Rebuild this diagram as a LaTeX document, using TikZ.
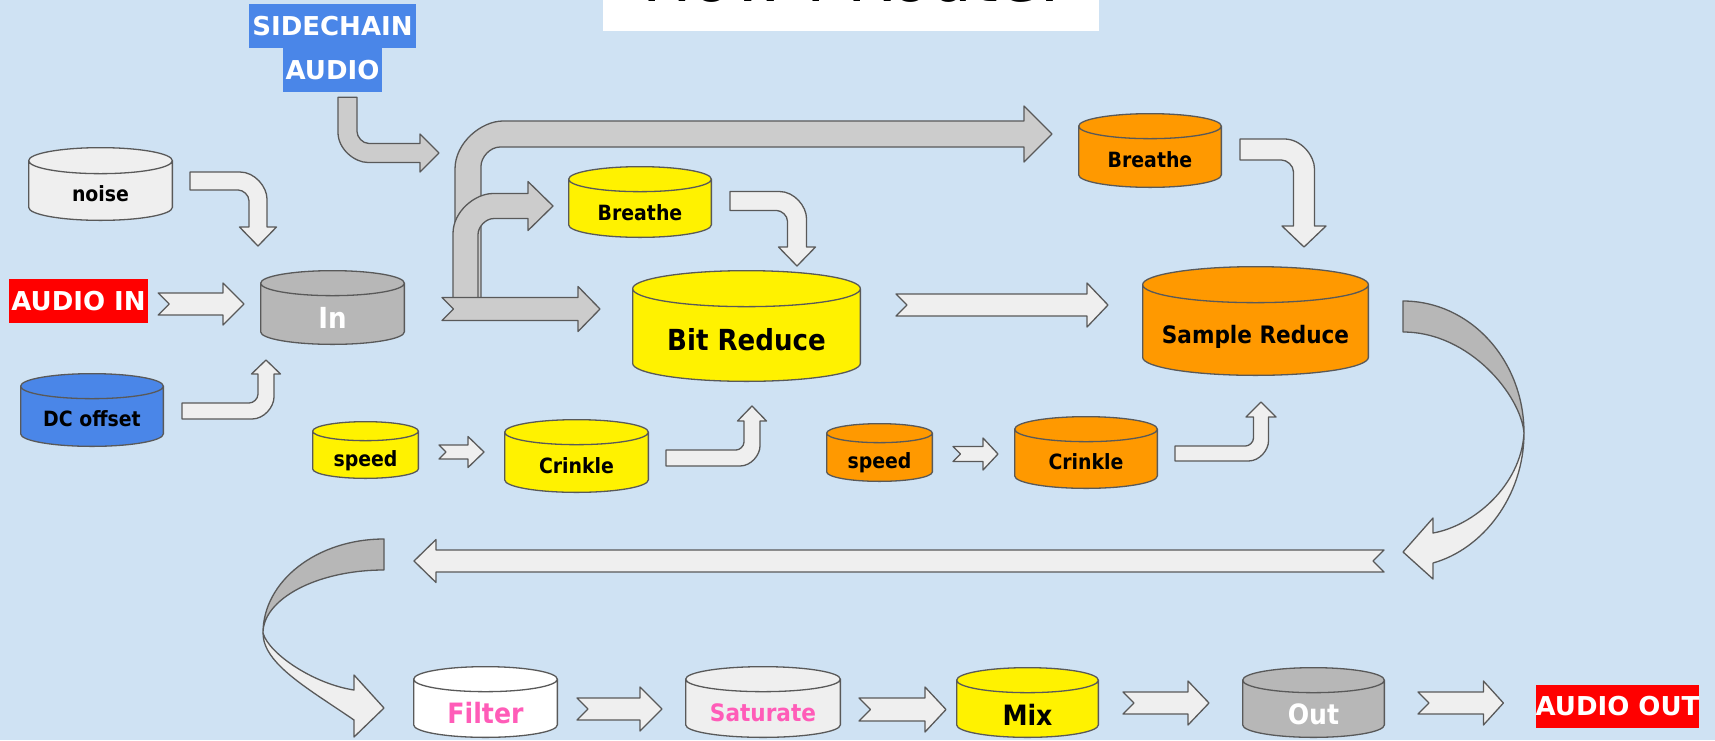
\documentclass[tikz,border=0pt]{standalone}
\usepackage{fontspec}
\setmainfont{DejaVu Sans}
\newfontfamily\drumfont{DejaVu Sans}[FakeStretch=0.9]
\usetikzlibrary{calc}

\definecolor{bgblue}{HTML}{CFE2F3}
\definecolor{rim}{HTML}{595959}
\definecolor{ltgray}{HTML}{EFEFEF}
\definecolor{midgray}{HTML}{CCCCCC}
\definecolor{dkgray}{HTML}{B7B7B7}
\definecolor{scblue}{HTML}{4A86E8}
\definecolor{orng}{HTML}{FF9900}
\definecolor{hotpink}{HTML}{FF5CB8}

% cylinder drawn inside a plain rectangle node
\newcommand\drumbody{%
  \path[draw=rim, line width=1.3pt, fill=\drumcol]
    let \p1=(path picture bounding box.south west), \p2=(path picture bounding box.north east),
        \n1={(\x2-\x1)/2-0.65pt} in
    ({\x1+0.65pt},{\y2-0.65pt-\drumry}) -- ({\x1+0.65pt},{\y1+0.65pt+\drumry})
    arc[start angle=180, end angle=360, x radius=\n1, y radius=\drumry]
    -- ({\x2-0.65pt},{\y2-0.65pt-\drumry})
    arc[start angle=0, end angle=180, x radius=\n1, y radius=\drumry] -- cycle
    ({\x1+0.65pt},{\y2-0.65pt-\drumry})
    arc[start angle=180, end angle=360, x radius=\n1, y radius=\drumry];}

\tikzset{
  drumcol/.store in=\drumcol, drumcol=ltgray,
  drumry/.store in=\drumry, drumry=12.5pt,
  drum/.style={rectangle, inner sep=0pt, outer sep=0pt,
    minimum width=145pt, minimum height=74pt, path picture={\drumbody},
    font=\drumfont\bfseries\fontsize{21}{21}\selectfont},
  bigdrum/.style={drum, minimum width=229pt, minimum height=112pt, drumry=18pt,
    font=\drumfont\bfseries\fontsize{29}{29}\selectfont},
  smalldrum/.style={drum, minimum width=107pt, minimum height=58pt, drumry=9.5pt},
  tag/.style={fill=red, text=white, inner sep=0pt,
    font=\bfseries\fontsize{26}{26}\selectfont},
  blk/.style={draw=rim, line width=1.3pt, line join=round, fill=ltgray},
  asize/.code n args={4}{\def\shaftw{#1pt}\def\headw{#2pt}\def\headl{#3pt}\def\cornr{#4pt}},
}

% drum text sits below the middle
\newcommand\dn[2][10pt]{\raisebox{-#1}[\height][\depth]{#2}}

% straight block arrow with notched tail
\newcommand\flatarrow[3][]{%
  \draw[blk,#1] let \p1=(#2), \p2=(#3), \n1={sign(\x2-\x1)} in
    (\x1,{\y1+\shaftw}) -- ({\x2-(\n1)*\headl},{\y1+\shaftw})
    -- ({\x2-(\n1)*\headl},{\y1+\headw}) -- (\x2,\y1)
    -- ({\x2-(\n1)*\headl},{\y1-\headw}) -- ({\x2-(\n1)*\headl},{\y1-\shaftw})
    -- (\x1,{\y1-\shaftw}) -- ({\x1+(\n1)*\shaftw},\y1) -- cycle;}

% bent block arrow: sideways first, then up or down
\newcommand\hvarrow[3][]{%
  \draw[blk,#1] let \p1=(#2), \p2=(#3), \n1={sign(\y2-\y1)},
      \p3=({\x2+\shaftw},{\y1-(\n1)*\shaftw}), \p4=({\x2-\shaftw},{\y1+(\n1)*\shaftw}) in
    (\x1,\y3) -- ({\x3-\cornr},\y3)
    .. controls ({\x3-0.448*\cornr},\y3) and (\x3,{\y3+0.552*(\n1)*\cornr}) .. (\x3,{\y3+(\n1)*\cornr})
    -- (\x3,{\y2-(\n1)*\headl}) -- ({\x2+\headw},{\y2-(\n1)*\headl}) -- (\x2,\y2)
    -- ({\x2-\headw},{\y2-(\n1)*\headl}) -- (\x4,{\y2-(\n1)*\headl})
    -- (\x4,{\y4+0.4*(\n1)*\cornr})
    .. controls (\x4,{\y4+0.18*(\n1)*\cornr}) and ({\x4-0.22*\cornr},\y4) .. ({\x4-0.4*\cornr},\y4)
    -- (\x1,\y4) -- cycle;}

% bent block arrow: up or down first, then sideways
\newcommand\vharrow[3][]{%
  \draw[blk,#1] let \p1=(#2), \p2=(#3), \n1={sign(\y2-\y1)},
      \p3=({\x1-\shaftw},{\y2+(\n1)*\shaftw}), \p4=({\x1+\shaftw},{\y2-(\n1)*\shaftw}) in
    (\x3,\y1) -- (\x3,{\y3-(\n1)*\cornr})
    .. controls (\x3,{\y3-0.448*(\n1)*\cornr}) and ({\x3+0.552*\cornr},\y3) .. ({\x3+\cornr},\y3)
    -- ({\x2-\headl},\y3) -- ({\x2-\headl},{\y2+(\n1)*\headw}) -- (\x2,\y2)
    -- ({\x2-\headl},{\y2-(\n1)*\headw}) -- ({\x2-\headl},\y4)
    -- ({\x4+0.4*\cornr},\y4)
    .. controls ({\x4+0.18*\cornr},\y4) and (\x4,{\y4-0.22*(\n1)*\cornr}) .. (\x4,{\y4-0.4*(\n1)*\cornr})
    -- (\x4,\y1) -- cycle;}

\begin{document}
\begin{tikzpicture}[x=1pt, y=-1pt]
\fill[bgblue] (0,0) rectangle (1715,740);
\useasboundingbox (0,0) rectangle (1715,740);

% title, cut off by the top edge
\begin{scope}
  \clip (0,0) rectangle (1715,740);
  \fill[white] (603,0) rectangle (1099,31);
  \node[font=\fontsize{66}{66}\selectfont, anchor=base, inner sep=0pt] (title) at (851,1.5) {How I Route.};
\end{scope}

% labels
\node[tag, fill=scblue, minimum width=167pt, minimum height=44pt] (scA) at (332.5,26) {SIDECHAIN};
\node[tag, fill=scblue, minimum width=99pt, minimum height=44pt] (scB) at (332.5,70) {AUDIO};
\node[tag, minimum width=139pt, minimum height=44pt] (audioin) at (78.5,301) {AUDIO IN};
\node[tag, minimum width=163pt, minimum height=43pt] (audioout) at (1617.5,706.5) {AUDIO OUT};

% drums
\node[drum, drumcol=ltgray, drumry=13pt] (noise) at (100.5,184) {\dn{noise}};
\node[drum, drumcol=dkgray, text=white, minimum height=75pt,
  font=\drumfont\bfseries\fontsize{29}{29}\selectfont] (In) at (332.5,307.5) {\dn{In}};
\node[drum, drumcol=scblue, minimum width=144pt] (dc) at (92,410) {\dn[9pt]{DC offset}};
\node[drum, drumcol=yellow, minimum width=144pt, minimum height=72pt] (breatheY) at (640,202) {\dn[11pt]{Breathe}};
\node[bigdrum, drumcol=yellow] (bit) at (746.5,326) {\dn[14pt]{Bit Reduce}};
\node[smalldrum, drumcol=yellow] (speedY) at (365.5,450) {\dn[11pt]{speed}};
\node[drum, drumcol=yellow] (crinkleY) at (576.5,456) {\dn{Crinkle}};
\node[drum, drumcol=orng, minimum width=144pt, minimum height=75pt] (breatheO) at (1150,150.5) {\dn[9.5pt]{Breathe}};
\node[bigdrum, drumcol=orng, minimum width=227pt, minimum height=110pt,
  font=\drumfont\bfseries\fontsize{24}{24}\selectfont] (sample) at (1255.5,321) {\dn[16pt]{Sample Reduce}};
\node[smalldrum, drumcol=orng, minimum height=59pt] (speedO) at (879.5,452.5) {\dn[10pt]{speed}};
\node[drum, drumcol=orng, minimum width=144pt, minimum height=73pt] (crinkleO) at (1086,452.5) {\dn[9.5pt]{Crinkle}};
\node[drum, drumcol=white, text=hotpink, minimum height=72pt,
  font=\drumfont\bfseries\fontsize{28}{28}\selectfont] (filter) at (485.5,702) {\dn[11pt]{Filter}};
\node[drum, drumcol=ltgray, text=hotpink, minimum width=156pt, minimum height=72pt,
  font=\drumfont\bfseries\fontsize{24}{24}\selectfont] (saturate) at (763,702) {\dn[11pt]{Saturate}};
\node[drum, drumcol=yellow, minimum width=143pt, minimum height=71pt,
  font=\drumfont\bfseries\fontsize{28}{28}\selectfont] (mix) at (1027.5,702.5) {\dn[12.5pt]{Mix}};
\node[drum, drumcol=dkgray, text=white, minimum width=143pt, minimum height=71pt,
  font=\drumfont\bfseries\fontsize{28}{28}\selectfont] (out) at (1313.5,702.5) {\dn[12pt]{Out}};

\coordinate (scT) at (439,153);
\coordinate (retR) at (1384,561);
\coordinate (retL) at (414,561);
\coordinate (curR) at (1403,301);
\coordinate (curL) at (384,539);

% input side
\vharrow[fill=midgray, asize={9.5}{19}{19}{30}]{[shift={(15,5)}]scB.south}{scT}
\hvarrow[asize={9}{18.5}{19}{27}]{[shift={(89.5,-3)}]noise.center}{[shift={(-74.5,-61.5)}]In.center}
\flatarrow[asize={11}{21}{21}{0}]{[shift={(10,3)}]audioin.east}{[shift={(-88.5,0)}]In.center}
\hvarrow[asize={8}{14.5}{14}{22}]{[shift={(90,1)}]dc.center}{[shift={(-66.5,52.5)}]In.center}

% split after In
\vharrow[fill=midgray, asize={13}{28}{28}{48}]{[shift={(135.5,-7.5)}]In.center}{[shift={(-98,-16.5)}]breatheO.center}
\vharrow[fill=midgray, asize={12.5}{24.5}{25}{40}]{[shift={(133,-7.5)}]In.center}{[shift={(-87,4)}]breatheY.center}
\flatarrow[fill=midgray, asize={11.5}{22.5}{22}{0}]{[shift={(109.5,1.5)}]In.center}{[shift={(-146.5,0)}]bit.center}

% bit reduce stage
\hvarrow[asize={9.5}{18.5}{19}{27}]{[shift={(90,-1)}]breatheY.center}{[shift={(50.5,-60)}]bit.center}
\flatarrow[asize={7}{15.5}{16}{0}]{[shift={(73.5,2)}]speedY.center}{[shift={(-92.5,0)}]crinkleY.center}
\hvarrow[asize={8}{14.5}{15}{20}]{[shift={(89.5,2)}]crinkleY.center}{[shift={(5.5,80)}]bit.center}
\flatarrow[asize={11}{22}{21}{0}]{[shift={(149.5,-21)}]bit.center}{[shift={(-147.5,0)}]sample.center}

% sample reduce stage
\hvarrow[asize={10.5}{22}{21}{30}]{[shift={(90,-1)}]breatheO.center}{[shift={(48.5,-74)}]sample.center}
\flatarrow[asize={7.5}{16}{15}{0}]{[shift={(73.5,1.5)}]speedO.center}{[shift={(-88,0)}]crinkleO.center}
\hvarrow[asize={7.5}{15}{15}{20}]{[shift={(89,1)}]crinkleO.center}{[shift={(5.5,81)}]sample.center}

% way back
\begin{scope}[shift={(curR)}]
  \draw[blk, fill=dkgray] (0,0) .. controls (67,0) and (121,59) .. (121,132)
    .. controls (118,95) and (67,31) .. (0,31) -- cycle;
  \draw[blk] (121,132) .. controls (121,195) and (80,248) .. (30,262) -- (30,278) -- (0,251)
    -- (30,217) -- (30,232) .. controls (70,225) and (118,185) .. (121,132) -- cycle;
\end{scope}
\flatarrow[asize={11}{21.5}{22}{0}]{retR}{retL}
\begin{scope}[shift={(curL)}]
  \draw[blk, fill=dkgray] (0,0) .. controls (-67,0) and (-121,42) .. (-121,94)
    .. controls (-121,60) and (-67,31) .. (0,31) -- cycle;
  \draw[blk] (-121,94) .. controls (-121,125) and (-75,150) .. (-30,181) -- (-30,198) -- (0,169)
    -- (-30,136) -- (-30,151) .. controls (-70,145) and (-115,115) .. (-121,94) -- cycle;
\end{scope}

% output side
\flatarrow[asize={11}{22}{22}{0}]{[shift={(91.5,7)}]filter.center}{[shift={(-101,0)}]saturate.center}
\flatarrow[asize={11.5}{22.5}{21}{0}]{[shift={(96,7.5)}]saturate.center}{[shift={(-81.5,0)}]mix.center}
\flatarrow[asize={11}{22}{21}{0}]{[shift={(95.5,0.5)}]mix.center}{[shift={(-104.5,0)}]out.center}
\flatarrow[asize={11}{22}{20}{0}]{[shift={(104.5,0.5)}]out.center}{[shift={(-32,0)}]audioout.west}
\end{tikzpicture}
\end{document}
